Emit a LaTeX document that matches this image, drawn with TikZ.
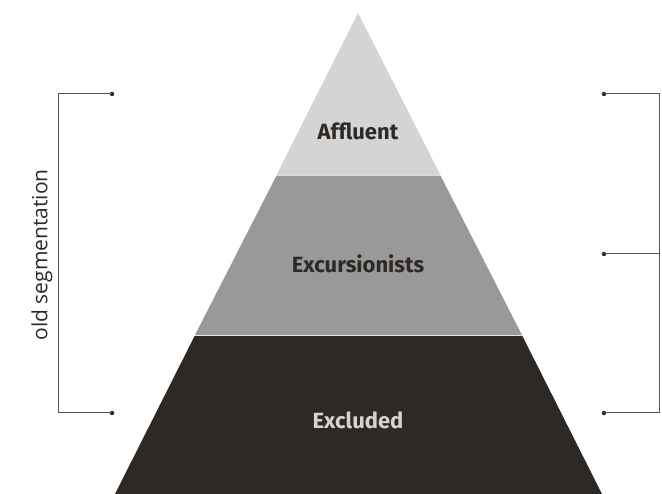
\documentclass[tikz,border=0pt]{standalone}
\usepackage{fontspec}
\setmainfont{Fira Sans}
\newfontfamily\labelfont{Open Sans}
\definecolor{tierlight}{HTML}{D4D4D4}
\definecolor{tiermid}{HTML}{999999}
\definecolor{tierdark}{HTML}{2E2925}
\definecolor{bracketgray}{HTML}{555555}
\begin{document}
\begin{tikzpicture}[x=1pt,y=-1pt,
  tierlabel/.style={font=\bfseries\fontsize{22}{26}\selectfont},
  bracket/.style={draw=bracketgray,line width=1pt},
  dot/.style={circle,fill=tierdark,inner sep=0pt,minimum size=4.5pt}]
\useasboundingbox (0,0) rectangle (662,494);
% pyramid tiers
\fill[tierlight] (358,13) -- (440.5,175) -- (276.5,175) -- cycle;
\fill[tiermid] (276.5,175.6) -- (440.5,175.6) -- (522,335) -- (195,335) -- cycle;
\fill[tierdark] (194.6,336) -- (522.4,336) -- (602,494) -- (115,494) -- cycle;
\node[tierlabel,text=tierdark] (aff) at (358,131) {Affluent};
\node[tierlabel,text=tierdark] (exc) at (358,264) {Excursionists};
\node[tierlabel,text=tierlight] (exl) at (358,420) {Excluded};
% left bracket
\node[dot] (l1) at (112,94) {};
\node[dot] (l2) at (112,413) {};
\coordinate (lc1) at (58,94);
\coordinate (lc2) at (58,413);
\draw[bracket] (l1.center) -- (lc1) -- (lc2) -- (l2.center);
\node[rotate=90,font=\labelfont\fontsize{21}{24}\selectfont,text=tierdark] (old) at (42,255) {old segmentation};
% right bracket
\node[dot] (r1) at (604,94) {};
\node[dot] (r2) at (604,254) {};
\node[dot] (r3) at (604,413) {};
\coordinate (rc1) at (659,94);
\coordinate (rc2) at (659,254);
\coordinate (rc3) at (659,413);
\draw[bracket] (r1.center) -- (rc1) -- (rc3) -- (r3.center);
\draw[bracket] (r2.center) -- (rc2);
\end{tikzpicture}
\end{document}
